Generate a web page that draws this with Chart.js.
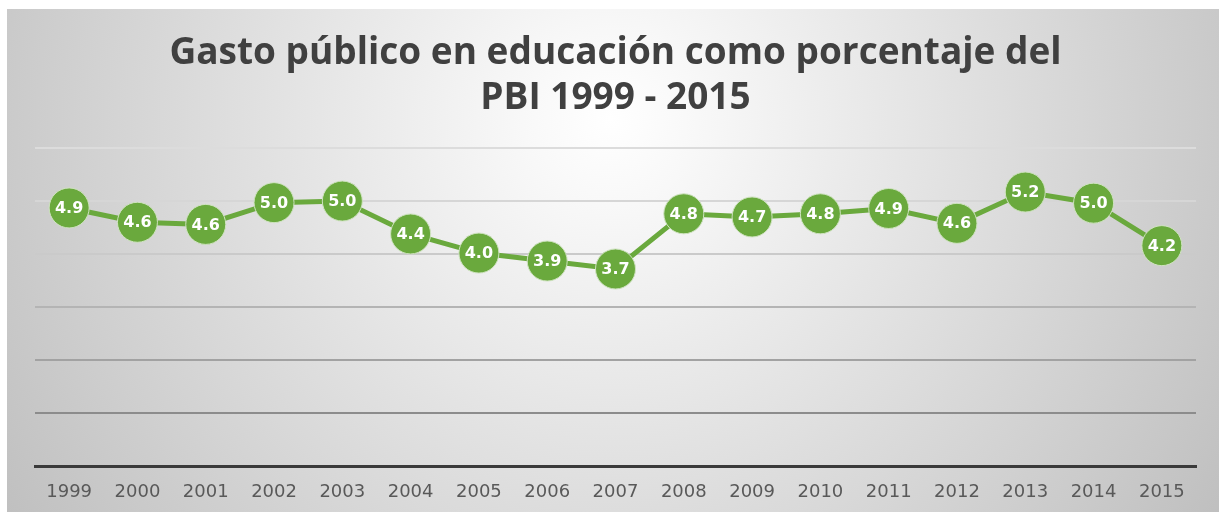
<!DOCTYPE html>
<html>
<head>
<meta charset="utf-8">
<script src="https://cdn.jsdelivr.net/npm/chart.js@4/dist/chart.umd.min.js"></script>
<style>
  html, body { margin: 0; padding: 0; background: #ffffff; }
  #wrap { position: absolute; left: 7px; top: 9px; width: 1212px; height: 503px; }
</style>
</head>
<body>
<div id="wrap"><canvas id="c" width="1212" height="503"></canvas></div>
<script>
const titleLines = ["Gasto público en educación como porcentaje del", "PBI 1999 - 2015"];
const years = ["1999","2000","2001","2002","2003","2004","2005","2006","2007","2008","2009","2010","2011","2012","2013","2014","2015"];
const gastoPBI = [4.87, 4.60, 4.56, 4.97, 5.00, 4.38, 4.02, 3.87, 3.72, 4.76, 4.70, 4.76, 4.86, 4.58, 5.17, 4.96, 4.16];
const yTicks = [0, 1, 2, 3, 4, 5, 6];

const GREEN = '#6aa93d';

const bgPlugin = {
  id: 'bg',
  beforeDraw(chart) {
    const ctx = chart.ctx;
    const w = chart.width, h = chart.height;
    ctx.save();
    const g = ctx.createRadialGradient(603, 110, 0, 603, 110, 730);
    g.addColorStop(0, '#ffffff');
    g.addColorStop(0.12, '#f8f8f8');
    g.addColorStop(1, '#bfbfbf');
    ctx.fillStyle = g;
    ctx.fillRect(0, 0, w, h);
    ctx.restore();
  }
};

const labelPlugin = {
  id: 'pointLabels',
  afterDatasetsDraw(chart) {
    const ctx = chart.ctx;
    const meta = chart.getDatasetMeta(0);
    const data = chart.data.datasets[0].data;
    ctx.save();
    ctx.fillStyle = '#ffffff';
    ctx.font = 'bold 16px "DejaVu Sans"';
    ctx.textAlign = 'center';
    ctx.textBaseline = 'middle';
    meta.data.forEach((pt, i) => {
      ctx.fillText(data[i].toFixed(1), pt.x, pt.y + 1);
    });
    ctx.restore();
  }
};

const gridColors = { 0: 'rgba(0,0,0,0)', 1: '#8c8c8c', 2: '#a2a2a2', 3: '#b4b4b4', 4: '#cacaca', 5: '#d6d6d6', 6: '#dcdcdc' };

new Chart(document.getElementById('c'), {
  type: 'line',
  data: {
    labels: years,
    datasets: [{
      data: gastoPBI,
      borderColor: GREEN,
      borderWidth: 5,
      backgroundColor: GREEN,
      pointBackgroundColor: GREEN,
      pointBorderColor: '#cfe3c0',
      pointBorderWidth: 1,
      pointRadius: 20,
      pointHoverRadius: 20,
      tension: 0,
      fill: false
    }]
  },
  options: {
    responsive: false,
    animation: false,
    devicePixelRatio: 1,
    layout: { padding: { left: 28, right: 23, top: 0, bottom: -6 } },
    plugins: {
      legend: { display: false },
      tooltip: { enabled: false },
      title: {
        display: true,
        text: titleLines,
        color: '#404040',
        font: { family: '"Open Sans"', size: 37, weight: 'bold', lineHeight: 1.216 },
        padding: { top: 22, bottom: 27 }
      }
    },
    scales: {
      x: {
        offset: true,
        grid: { display: false, drawTicks: false },
        border: { display: true, color: '#3a3a3a', width: 3 },
        ticks: { color: '#595959', font: { family: '"DejaVu Sans"', size: 18 }, padding: 15, maxRotation: 0, autoSkip: false }
      },
      y: {
        min: yTicks[0],
        max: yTicks[yTicks.length - 1],
        afterBuildTicks(axis) { axis.ticks = yTicks.map(v => ({ value: v })); },
        ticks: { display: false },
        border: { display: false },
        grid: {
          drawTicks: false,
          lineWidth: 2,
          color: (c) => gridColors[c.tick ? c.tick.value : 0] || '#cccccc'
        }
      }
    }
  },
  plugins: [bgPlugin, labelPlugin]
});
</script>
</body>
</html>
